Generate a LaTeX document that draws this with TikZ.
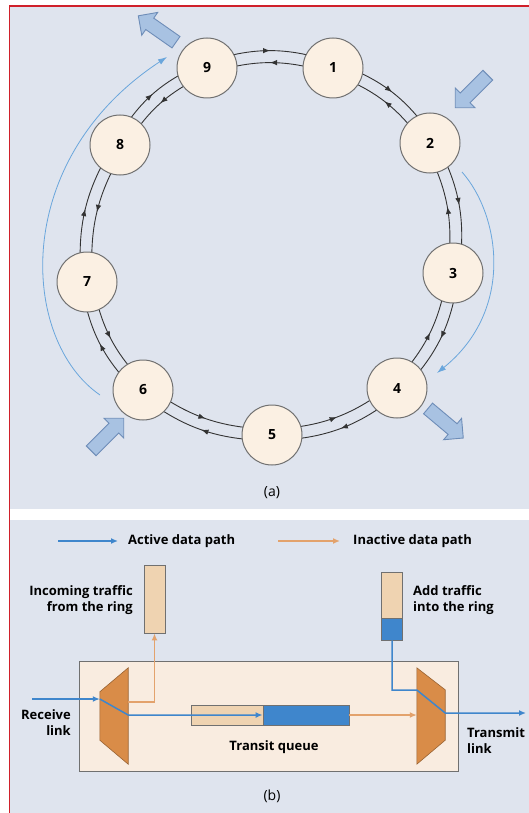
\documentclass[tikz,border=0pt]{standalone}
\usepackage{fontspec}
\setmainfont{Open Sans}
\usetikzlibrary{calc,arrows.meta,shapes.arrows,decorations.markings,backgrounds}
\definecolor{panelbg}{HTML}{DFE4EE}
\definecolor{framered}{HTML}{D0202A}
\definecolor{cream}{HTML}{FBF0E3}
\definecolor{rimgray}{HTML}{707070}
\definecolor{blockfill}{HTML}{A8C2E2}
\definecolor{blockedge}{HTML}{6E8DB8}
\definecolor{flowblue}{HTML}{6AA6DC}
\definecolor{activeblue}{HTML}{3F86CC}
\definecolor{inactiveorange}{HTML}{E3A26C}
\definecolor{bintan}{HTML}{EFD3B1}
\definecolor{boxpeach}{HTML}{F9ECE0}
\definecolor{muxorange}{HTML}{D98C48}
\tikzset{
    station/.style={circle, draw=rimgray, fill=cream, line width=1pt, minimum size=60pt, inner sep=0pt, font=\bfseries\fontsize{14}{16}\selectfont},
    ringline/.style={draw=black!80, line width=0.9pt, postaction={decorate}, decoration={markings, mark=at position 0.5 with {\arrow{Latex[length=7pt,width=5.5pt]}}}},
    bigarrow/.style={single arrow, draw=blockedge, fill=blockfill, line width=0.9pt, minimum height=46pt, single arrow head extend=7pt, inner sep=6.5pt},
    flowarc/.style={draw=flowblue, line width=0.8pt, -{Latex[length=9pt,width=6pt]}},
    activepath/.style={draw=activeblue, line width=1.5pt},
    inactivepath/.style={draw=inactiveorange, line width=1.5pt},
    binbox/.style={draw=rimgray, line width=0.8pt, fill=bintan, minimum width=21pt, inner sep=0pt},
    muxslot/.style={minimum width=28pt, minimum height=96pt, inner sep=0pt},
    muxshape/.style={draw=muxorange!70!black, fill=muxorange, line width=0.6pt},
    lbl/.style={font=\bfseries\fontsize{13}{16}\selectfont, inner sep=0pt},
    tip/.style={-{Latex[length=7pt,width=6pt]}}
}
\begin{document}
\begin{tikzpicture}[x=1pt, y=1pt]
    \useasboundingbox (0,0) rectangle (529,-813);
    \begin{scope}[on background layer]
        \fill[white] (0,0) rectangle (529,-813);
        \fill[panelbg] (10,-7) rectangle (529,-509);
        \fill[panelbg] (10,-520) rectangle (529,-813);
    \end{scope}

    \begin{scope}[every node/.style={station}]

        \node (1) at (333,-68) {1};
        \node (2) at (430,-143) {2};
        \node (3) at (453,-273) {3};
        \node (4) at (397,-388) {4};
        \node (5) at (272,-435) {5};
        \node (6) at (143,-390) {6};
        \node (7) at (87,-282) {7};
        \node (8) at (120,-145) {8};
        \node (9) at (207,-68) {9};

    \end{scope}
    \begin{scope}[on background layer]
        \foreach \a/\b in {9/1,1/2,2/3,3/4,4/5,5/6,6/7,7/8,8/9}{
            \path ($(\a)!6pt!90:(\b)$) edge[ringline, bend left=18] ($(\b)!6pt!-90:(\a)$);
            \path ($(\b)!6pt!90:(\a)$) edge[ringline, bend right=18] ($(\a)!6pt!-90:(\b)$);
        }
    \end{scope}

    \node[bigarrow, rotate=145] (outA) at (160,-31) {};
    \node[bigarrow, rotate=-135] (inA) at (474,-89) {};
    \node[bigarrow, rotate=-40] (outB) at (443,-421) {};
    \node[bigarrow, rotate=45] (inB) at (105,-437) {};

    \coordinate (arcRs) at (462,-172);
    \coordinate (arcRe) at (437,-373);
    \coordinate (arcLs) at (100,-395);
    \coordinate (arcLe) at (167,-57);
    \draw[flowarc] (arcRs) .. controls (500,-215) and (515,-310) .. (arcRe);
    \draw[flowarc] (arcLs) .. controls (20,-340) and (10,-160) .. (arcLe);

    \node[font=\fontsize{14}{16}\selectfont] (capa) at (272,-493) {(a)};

    \node[lbl, anchor=west] (keyA) at (128,-541) {Active data path};
    \node[lbl, anchor=west] (keyI) at (353,-541) {Inactive data path};
    \draw[activepath, tip] ([xshift=-70pt]keyA.west) -- ([xshift=-10pt]keyA.west);
    \draw[inactivepath, tip] ([xshift=-75pt]keyI.west) -- ([xshift=-13pt]keyI.west);

    \node[binbox, minimum height=68pt] (inbin) at (154.5,-599) {};
    \node[binbox, minimum height=46pt] (addbin) at (392,-595) {};
    \node[binbox, minimum height=22pt, fill=activeblue] (addblue) at (392,-629) {};

    \node[draw=rimgray, fill=boxpeach, line width=0.8pt, minimum width=379pt, minimum height=110pt] (station) at (268.5,-716) {};
    \node[muxslot] (mux1) at (114,-716) {};
    \node[muxslot] (mux2) at (431,-716) {};
    \draw[muxshape] ([yshift=-24pt]mux1.north west) -- (mux1.north east) -- (mux1.south east) -- ([yshift=24pt]mux1.south west) -- cycle;
    \draw[muxshape] (mux2.north west) -- ([yshift=-22pt]mux2.north east) -- ([yshift=24pt]mux2.south east) -- (mux2.south west) -- cycle;
    \node[binbox, minimum width=72pt, minimum height=20pt] (qold) at (227,-715) {};
    \node[binbox, minimum width=86pt, minimum height=20pt, fill=activeblue] (qnew) at (306,-715) {};

    \coordinate (rxin) at (32,-699);
    \coordinate (txout) at (526,-713);
    \draw[activepath, tip] (rxin) -- (mux1.west |- rxin);
    \draw[activepath, tip] (mux1.west |- rxin) -- (mux1.east |- qold) -- (qnew.west);
    \draw[inactivepath, tip] ([yshift=14pt]mux1.east) -| (inbin.south);
    \draw[inactivepath, tip] (qnew.east) -- (mux2.west |- qnew.east);
    \draw[activepath, tip] (addblue.south) |- ([yshift=26pt]mux2.west) -- (mux2.east |- txout) -- (txout);

    \node[lbl, align=right, anchor=east] (intext) at (133,-600) {Incoming traffic\\from the ring};
    \node[lbl, align=left, anchor=west] (addtext) at (413,-600) {Add traffic\\into the ring};
    \node[lbl, align=right, anchor=east] (rxtext) at (71,-723) {Receive\\link};
    \node[lbl, align=left, anchor=west] (txtext) at (467,-741) {Transmit\\link};
    \node[lbl] (qtext) at (274,-747) {Transit queue};
    \node[font=\fontsize{14}{16}\selectfont] (capb) at (272,-796) {(b)};

    \draw[framered, line width=1.5pt] (9.5,-813) -- (9.5,-6) -- (529,-6);
\end{tikzpicture}
\end{document}
